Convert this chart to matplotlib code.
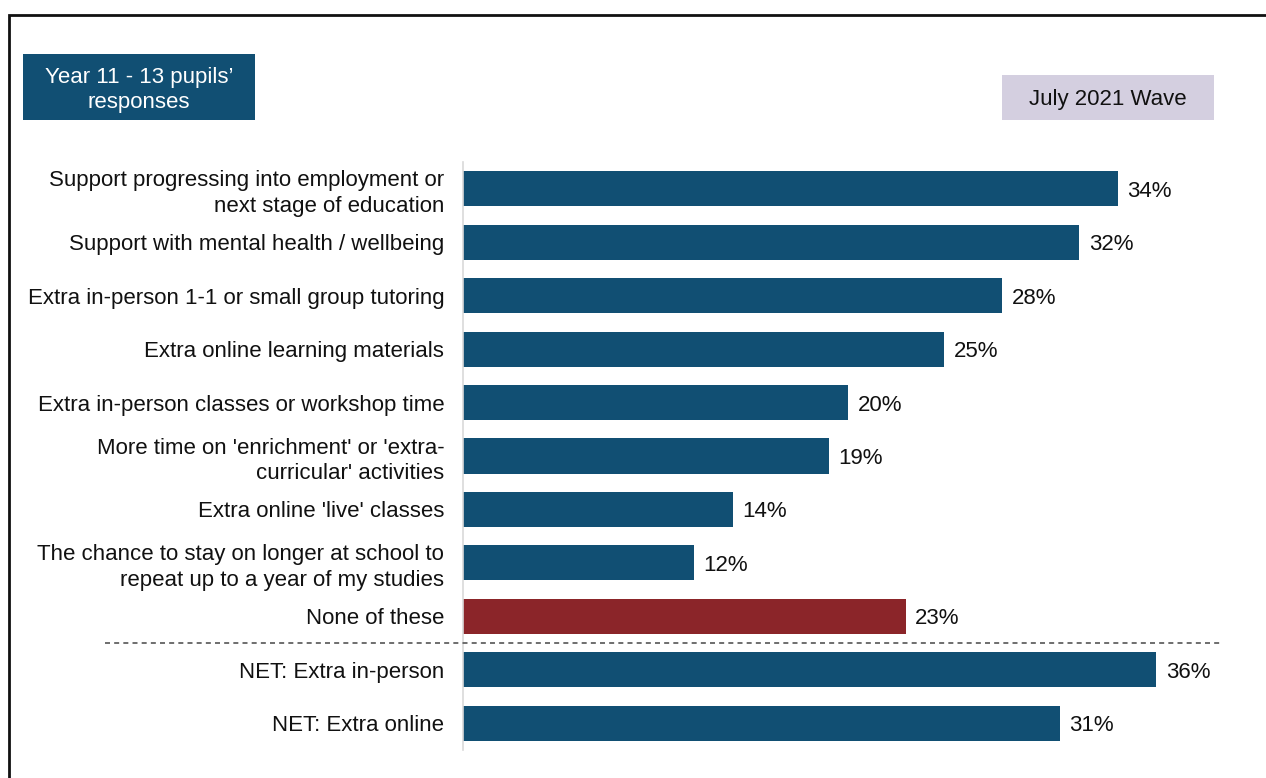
import matplotlib.pyplot as plt
from matplotlib.patches import Rectangle
from matplotlib.lines import Line2D
from matplotlib.transforms import blended_transform_factory

plt.rcParams['font.family'] = ['Liberation Sans', 'DejaVu Sans']

# support options, top to bottom
labels = [
    "Support progressing into employment or\nnext stage of education",
    "Support with mental health / wellbeing",
    "Extra in-person 1-1 or small group tutoring",
    "Extra online learning materials",
    "Extra in-person classes or workshop time",
    "More time on 'enrichment' or 'extra-\ncurricular' activities",
    "Extra online 'live' classes",
    "The chance to stay on longer at school to\nrepeat up to a year of my studies",
    "None of these",
    "NET: Extra in-person",
    "NET: Extra online",
]
values = [34, 32, 28, 25, 20, 19, 14, 12, 23, 36, 31]

BLUE = "#114F73"
RED = "#8B2529"
colors = [RED if lab == "None of these" else BLUE for lab in labels]
FS = 16

W, H = 1266, 778
fig = plt.figure(figsize=(W / 100, H / 100), dpi=100)
ax = fig.add_axes([463 / W, (H - 750) / H, (1233 - 463) / W, 588 / H])

ypos = list(range(len(labels)))
ax.barh(ypos, values, height=0.655, color=colors)
for y, v in zip(ypos, values):
    ax.text(v + 0.5, y, f"{v}%", va="center_baseline", ha="left", fontsize=FS, color="#111111")

ax.set_xlim(0, 40)
ax.set_ylim(len(labels) - 0.5, -0.5)
ax.set_yticks(ypos)
ax.set_yticklabels(labels, fontsize=FS, color="#111111", multialignment="right",
                   linespacing=1.28)
ax.tick_params(axis="y", length=0, pad=13.5)
ax.set_xticks([])
for side in ["top", "right", "bottom"]:
    ax.spines[side].set_visible(False)
ax.spines["left"].set_color("#D9D9D9")
ax.spines["left"].set_linewidth(1.2)

# dashed divider between the options and the NET rows
tr = blended_transform_factory(fig.transFigure, ax.transData)
fig.add_artist(Line2D([105 / W, 1222 / W], [8.5, 8.5], transform=tr,
                      color="#555555", linewidth=1.2, linestyle=(0, (3, 2.5))))

# outer frame (top and left edges visible)
fig.add_artist(Rectangle((9 / W, -0.1), 1.2, 1 - 15 / H + 0.1, transform=fig.transFigure,
                         fill=False, edgecolor="#111111", linewidth=2))

# header boxes
fig.add_artist(Rectangle((23 / W, (H - 120) / H), 232 / W, 66 / H,
                         transform=fig.transFigure, facecolor=BLUE, edgecolor="none"))
fig.text(139 / W, (H - 90) / H, "Year 11 - 13 pupils\u2019\nresponses", color="white",
         fontsize=FS, ha="center", va="center", multialignment="center", linespacing=1.3)

fig.add_artist(Rectangle((1002 / W, (H - 120) / H), 212 / W, 45 / H,
                         transform=fig.transFigure, facecolor="#D4CFE0", edgecolor="none"))
fig.text(1108 / W, (H - 97) / H, "July 2021 Wave", color="#111111",
         fontsize=FS, ha="center", va="center_baseline")

fig.savefig("out.png", dpi=100)
